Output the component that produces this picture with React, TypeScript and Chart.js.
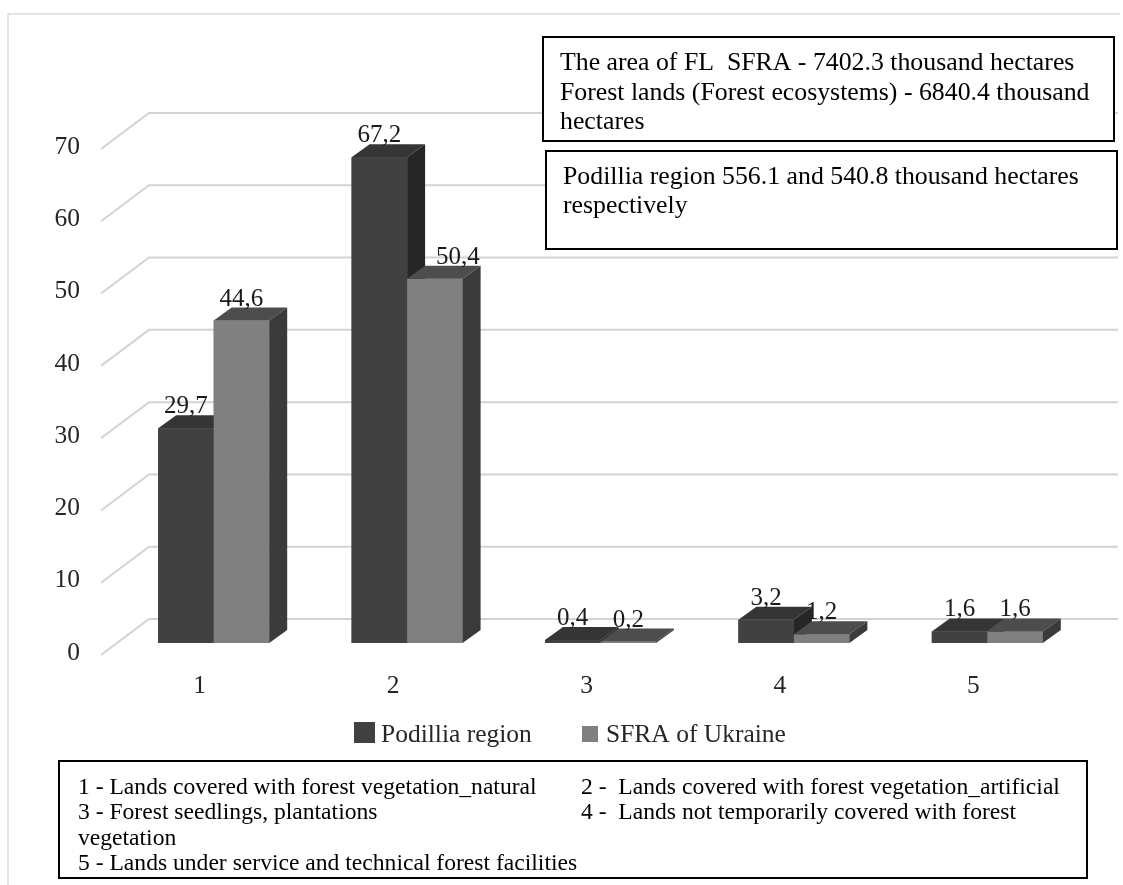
import React, { useEffect, useRef } from "react";
import { Chart, registerables } from "chart.js";

Chart.register(...registerables);

const categories = ["1", "2", "3", "4", "5"];
const podilliaValues = [29.7, 67.2, 0.4, 3.2, 1.6];
const sfraValues = [44.6, 50.4, 0.2, 1.2, 1.6];
const seriesNames = ["Podillia region", "SFRA of Ukraine"];
const yTickValues = [0, 10, 20, 30, 40, 50, 60, 70];
const infoBox1Lines = [
  "The area of FL  SFRA - 7402.3 thousand hectares",
  "Forest lands (Forest ecosystems) - 6840.4 thousand",
  "hectares",
];
const infoBox2Lines = [
  "Podillia region 556.1 and 540.8 thousand hectares",
  "respectively",
];
const keyLeftLines = [
  "1 - Lands covered with forest vegetation_natural",
  "3 - Forest seedlings, plantations",
  "vegetation",
  "5 - Lands under service and technical forest facilities",
];
const keyRightLines = [
  "2 -  Lands covered with forest vegetation_artificial",
  "4 -  Lands not temporarily covered with forest",
];

const SERIF = '"Liberation Serif", "Times New Roman", serif';
const FACE = [
  { front: "#414141", top: "#353535", side: "#262626" },
  { front: "#808080", top: "#4d4d4d", side: "#3a3a3a" },
];
const DX = 18;
const DY = 13;

const fmt = (v: number) => v.toFixed(1).replace(".", ",");

const decorPlugin = {
  id: "decor3d",
  beforeDraw(chart: any) {
    const ctx = chart.ctx;
    ctx.save();
    ctx.fillStyle = "#ffffff";
    ctx.fillRect(0, 0, chart.width, chart.height);
    ctx.strokeStyle = "#d9d9d9";
    ctx.lineWidth = 1.5;
    ctx.beginPath();
    ctx.moveTo(8, chart.height);
    ctx.lineTo(8, 14);
    ctx.lineTo(1120, 14);
    ctx.stroke();
    ctx.restore();
  },
  beforeDatasetsDraw(chart: any) {
    const ctx = chart.ctx;
    const ys = chart.scales.y;
    const area = chart.chartArea;
    ctx.save();
    ctx.strokeStyle = "#d3d3d3";
    ctx.lineWidth = 2;
    yTickValues.forEach((v) => {
      const py = ys.getPixelForValue(v);
      ctx.beginPath();
      ctx.moveTo(area.left - 16, py + 12);
      ctx.lineTo(area.left + 32, py - 24);
      ctx.lineTo(area.right + 34, py - 24);
      ctx.stroke();
    });
    ctx.restore();
  },
  afterDatasetsDraw(chart: any) {
    const ctx = chart.ctx;
    const metas = [chart.getDatasetMeta(0), chart.getDatasetMeta(1)];
    ctx.save();
    categories.forEach((_, i) => {
      metas.forEach((meta: any, d: number) => {
        const el = meta.data[i];
        const p = el.getProps(["x", "y", "base", "width"], true);
        const l = p.x - p.width / 2;
        const r = p.x + p.width / 2;
        const c = FACE[d];
        ctx.fillStyle = c.front;
        ctx.fillRect(l, p.y, p.width, p.base - p.y);
        ctx.fillStyle = c.top;
        ctx.beginPath();
        ctx.moveTo(l, p.y);
        ctx.lineTo(l + DX, p.y - DY);
        ctx.lineTo(r + DX, p.y - DY);
        ctx.lineTo(r, p.y);
        ctx.closePath();
        ctx.fill();
        ctx.fillStyle = c.side;
        ctx.beginPath();
        ctx.moveTo(r, p.y);
        ctx.lineTo(r + DX, p.y - DY);
        ctx.lineTo(r + DX, p.base - DY);
        ctx.lineTo(r, p.base);
        ctx.closePath();
        ctx.fill();
      });
    });
    // value labels
    ctx.fillStyle = "#1a1a1a";
    ctx.font = `25px ${SERIF}`;
    ctx.textAlign = "center";
    ctx.textBaseline = "alphabetic";
    metas.forEach((meta: any, d: number) => {
      const vals = d === 0 ? podilliaValues : sfraValues;
      meta.data.forEach((el: any, i: number) => {
        const p = el.getProps(["x", "y"], true);
        // a label sitting in front of a much taller neighbour's side face moves past it
        const shift = d === 1 && podilliaValues[i] - sfraValues[i] > 10 ? DX + 5 : 0;
        ctx.fillText(fmt(vals[i]), p.x + shift, p.y - 15);
      });
    });
    ctx.restore();
  },
  afterDraw(chart: any) {
    const ctx = chart.ctx;
    ctx.save();
    // legend
    ctx.fillStyle = FACE[0].front;
    ctx.fillRect(354, 722, 21, 21);
    ctx.fillStyle = FACE[1].front;
    ctx.fillRect(582, 726, 16, 16);
    ctx.fillStyle = "#262626";
    ctx.font = `25.5px ${SERIF}`;
    ctx.textAlign = "left";
    ctx.textBaseline = "alphabetic";
    ctx.fillText(seriesNames[0], 381, 742);
    ctx.fillText(seriesNames[1], 606, 742);

    // info boxes
    const box = (x: number, y: number, w: number, h: number) => {
      ctx.fillStyle = "#ffffff";
      ctx.fillRect(x, y, w, h);
      ctx.strokeStyle = "#000000";
      ctx.lineWidth = 2;
      ctx.strokeRect(x, y, w, h);
    };
    box(543, 37, 571, 104);
    box(546, 151, 571, 98);
    box(59, 761, 1028, 117);

    ctx.fillStyle = "#000000";
    ctx.font = `25.8px ${SERIF}`;
    infoBox1Lines.forEach((t, k) => ctx.fillText(t, 560, 70 + k * 29.5));
    infoBox2Lines.forEach((t, k) => ctx.fillText(t, 563, 184 + k * 28.5));

    ctx.font = `23.6px ${SERIF}`;
    keyLeftLines.forEach((t, k) => ctx.fillText(t, 78, 794 + k * 25.3));
    keyRightLines.forEach((t, k) => ctx.fillText(t, 581, 794 + k * 25.3));
    ctx.restore();
  },
};

export default function App() {
  const ref = useRef<HTMLCanvasElement | null>(null);
  useEffect(() => {
    if (!ref.current) return;
    const chart = new Chart(ref.current, {
      type: "bar",
      data: {
        labels: categories,
        datasets: [
          {
            label: seriesNames[0],
            data: podilliaValues,
            backgroundColor: FACE[0].front,
            barPercentage: 1,
            categoryPercentage: 0.574,
          },
          {
            label: seriesNames[1],
            data: sfraValues,
            backgroundColor: FACE[1].front,
            barPercentage: 1,
            categoryPercentage: 0.574,
          },
        ],
      },
      options: {
        responsive: false,
        animation: false,
        layout: { padding: { left: 0, right: 39, top: 137, bottom: 182 } },
        plugins: {
          legend: { display: false },
          tooltip: { enabled: false },
        },
        scales: {
          x: {
            grid: { display: false, drawTicks: false },
            border: { display: false },
            ticks: {
              font: { family: SERIF, size: 25.5 },
              color: "#262626",
              padding: 28,
              labelOffset: -14,
              maxRotation: 0,
            },
            afterFit: (s: any) => {
              s.height = 60;
            },
          },
          y: {
            min: 0,
            max: 70,
            grid: { display: false, drawTicks: false },
            border: { display: false },
            ticks: {
              stepSize: 10,
              font: { family: SERIF, size: 25.5 },
              color: "#262626",
              padding: 37,
              labelOffset: 10,
            },
            afterFit: (s: any) => {
              s.width = 117;
            },
          },
        },
      },
      plugins: [decorPlugin],
    });
    return () => chart.destroy();
  }, []);
  return (
    <div style={{ position: "absolute", left: 0, top: 0, width: 1123, height: 885 }}>
      <canvas ref={ref} width={1123} height={885} style={{ display: "block" }} />
    </div>
  );
}
